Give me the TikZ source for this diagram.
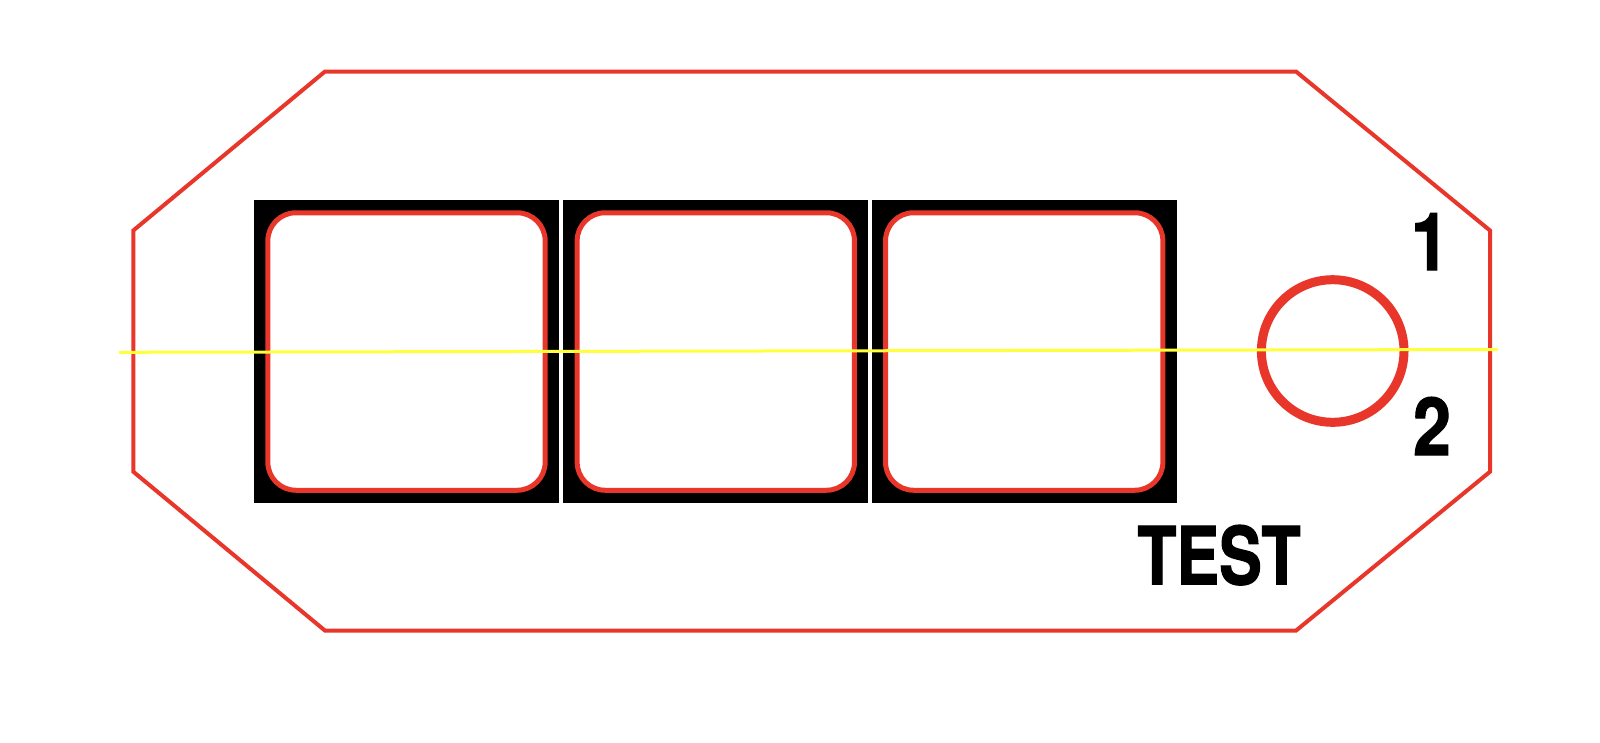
\documentclass[tikz,border=0pt]{standalone}
\usepackage{fontspec}
\setmainfont{TeX Gyre Heros}
\definecolor{pcbred}{HTML}{E8372A}
\definecolor{hiyellow}{HTML}{FFFF3C}
\begin{document}
\begin{tikzpicture}[x=1pt,y=-1pt,
  outline/.style={draw=pcbred,line width=4pt,line join=miter},
  padblack/.style={fill=black,draw=none,minimum width=305pt,minimum height=303.5pt,inner sep=0pt},
  padred/.style={draw=pcbred,fill=white,line width=5pt,rounded corners=28pt,minimum width=277.3pt,minimum height=277.5pt,inner sep=0pt},
  ring/.style={circle,draw=pcbred,line width=9pt,minimum size=142.6pt,inner sep=0pt},
  label/.style={font=\fontsize{80}{80}\selectfont\bfseries\addfontfeatures{FakeBold=1.6},inner sep=0pt,anchor=base},
  guide/.style={draw=hiyellow,line width=3pt}]
\fill[white] (0,0) rectangle (1600,742);
\useasboundingbox (0,0) rectangle (1600,742);
% outline of the board
\draw[outline] (325,71.5) -- (1296,71.5) -- (1490,230.5) -- (1490,471.7) -- (1296,630.6) -- (325,630.6) -- (133.3,471.7) -- (133.3,230.5) -- cycle;
% pads
\node[padblack] (b1) at (406.5,351.5) {};
\node[padblack] (b2) at (715.8,351.5) {};
\node[padblack] (b3) at (1024.2,351.5) {};
\node[padred] (r1) at (b1.center) {};
\node[padred] (r2) at (b2.center) {};
\node[padred] (r3) at (b3.center) {};
% ring
\node[ring] (c) at (1332.7,351) {};
% labels
\node[label] (one) at (1430,270) {\scalebox{0.85}[1]{1}};
\node[label] (two) at (1432,455) {\scalebox{0.85}[1]{2}};
\node[label] (test) at (1219,584.3) {\scalebox{0.8}[1]{TEST}};
% yellow guide
\coordinate (yl) at (119,352.3);
\coordinate (yr) at (1497.7,349.5);
\draw[guide] (yl) -- (yr);
\end{tikzpicture}
\end{document}
